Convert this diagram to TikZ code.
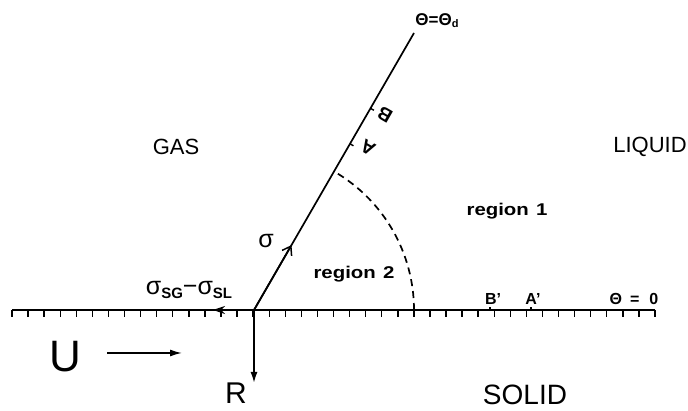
\documentclass[tikz,border=0pt]{standalone}
\usepackage{fontspec}
\setmainfont{Liberation Sans}
\usetikzlibrary{arrows.meta,calc}
\newcommand{\fs}[1]{\fontsize{#1}{#1}\selectfont}
\begin{document}
\begin{tikzpicture}[x=1pt,y=1pt,line width=1.7pt,
  lbl/.style={inner sep=0pt,anchor=center},
  tickmark/.style={line width=1.4pt},
  barb/.style={-{Straight Barb[length=8pt,width=11pt,line width=1.5pt]}},
  solidtip/.style={-{Latex[length=11pt,width=7pt]}}]
\useasboundingbox (0,0) rectangle (688,411);
% ground
\coordinate (P) at (254,101);
\coordinate (GL) at (12,101);
\coordinate (GR) at (655,101);
\draw (GL) -- (GR);
\foreach \i in {0,...,40} \draw[tickmark] ({12+\i*16.075},101) -- ++(0,-7);
% marks on ground
\coordinate (Bp) at (490,101);
\coordinate (Ap) at (531,101);
\draw[tickmark] (Bp) -- ++(0,3);
\draw[tickmark] (Ap) -- ++(0,3);
% contact line
\coordinate (T) at (414,378);
\draw (P) -- (T);
\coordinate (S) at ($(P)!75/320!(T)$);
\draw[barb] (P) -- (S);
\coordinate (Am) at ($(P)!192/320!(T)$);
\coordinate (Bm) at ($(P)!233/320!(T)$);
\draw[tickmark] (Am) -- ++(-30:4);
\draw[tickmark] (Bm) -- ++(-30:4);
% angle arc
\draw[dash pattern=on 7pt off 5pt] ($(P)+(160,0)$) arc[start angle=0,end angle=60,radius=160];
% force arrows
\coordinate (Gtip) at (213,101);
\draw[-{Stealth[length=12pt,width=8pt]}] (P) -- (Gtip);
\coordinate (Rtip) at (254,28);
\draw[solidtip] (P) -- (Rtip);
\coordinate (U1) at (107,58);
\coordinate (U2) at (182,58);
\draw[line width=1.5pt,-{Latex[length=12pt,width=7pt]}] (U1) -- (U2);
% labels
\node[lbl,font=\fs{17}\bfseries] (thd) at (437,390) {Θ=Θ\raisebox{-2pt}{\fs{11}d}};
\node[lbl,font=\fs{22}] (gas) at (176,264) {GAS};
\node[lbl,font=\fs{22}] (liq) at (650,264) {LIQUID};
\node[lbl,font=\fs{17}\bfseries] (r1) at (507,200) {\scalebox{1.2}[1]{region\hspace{6pt}1}};
\node[lbl,font=\fs{17}\bfseries] (r2) at (354,137) {\scalebox{1.2}[1]{region\hspace{6pt}2}};
\node[lbl,font=\fs{25}] (sig) at (266,170) {σ};
\node[lbl,font=\fs{25}] (sgsl) at (189,121) {σ\raisebox{-4pt}{\fs{15}\bfseries SG}−σ\raisebox{-4pt}{\fs{15}\bfseries SL}};
\node[lbl,font=\fs{16}\bfseries] (Bl) at (493,112) {B'};
\node[lbl,font=\fs{16}\bfseries] (Al) at (533,112) {A'};
\node[lbl,font=\fs{16}\bfseries] (th0) at (634,112) {Θ\hspace{8pt}=\hspace{10pt}0};
\node[lbl,font=\fs{19}\bfseries,rotate=150] (Alab) at (368,263) {A};
\node[lbl,font=\fs{19}\bfseries,rotate=150] (Blab) at (385,296) {B};
\node[lbl,font=\fs{44}] (U) at (65,54) {U};
\node[lbl,font=\fs{30}] (R) at (236,18) {R};
\node[lbl,font=\fs{28}] (sol) at (525,16) {SOLID};
\end{tikzpicture}
\end{document}
